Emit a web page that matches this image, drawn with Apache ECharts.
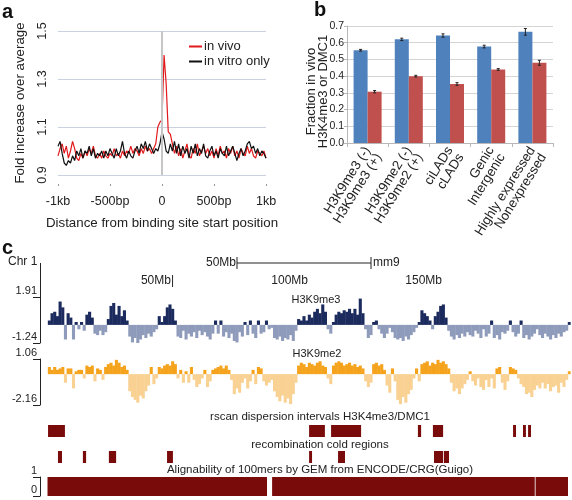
<!DOCTYPE html>
<html><head><meta charset="utf-8">
<script src="https://cdn.jsdelivr.net/npm/echarts@6/dist/echarts.min.js"></script>
<style>html,body{margin:0;padding:0;background:#fff}#c{width:572px;height:500px}</style>
</head><body><div id="c"></div>
<script>
// ---------- Panel a ----------
const aStartBp = -1000, aStepBp = 20;
const aTickLabels = {'-1000':'-1kb','-500':'-500bp','0':'0','500':'500bp','1000':'1kb'};
const inVivo = [0.98,1.01,1.03,0.99,1.02,0.97,1.00,1.04,1.01,0.97,0.96,0.99,0.97,1.00,0.98,1.01,0.99,1.02,0.98,0.97,
 0.99,0.97,1.00,0.98,0.97,0.99,0.98,1.01,0.98,0.99,0.97,1.00,0.98,1.00,0.99,1.02,0.99,1.01,1.00,0.98,
 1.01,0.99,1.02,1.00,1.01,0.99,1.01,1.03,1.10,1.12,1.13,1.40,1.28,1.08,1.07,1.03,0.99,1.02,0.98,1.01,
 0.97,1.00,1.03,0.98,0.97,1.01,0.99,1.03,0.98,1.00,1.02,0.99,1.01,0.98,1.00,0.97,1.01,0.98,1.02,0.99,
 1.00,0.97,1.01,0.99,1.02,0.98,1.00,0.97,1.01,0.99,0.98,1.02,0.99,1.01,0.98,0.97,1.00,0.99,0.98,1.00,0.97];
const inVitro = [1.02,1.04,0.99,0.95,0.94,0.96,0.95,0.98,0.96,1.00,0.98,1.01,0.97,1.00,0.99,1.02,0.98,1.01,0.97,0.99,
 0.98,1.00,0.97,1.00,0.98,1.01,0.99,0.97,1.01,0.98,1.00,1.04,0.99,0.97,1.00,0.98,0.97,1.00,1.02,0.99,
 1.03,1.01,1.04,1.00,1.03,1.01,0.99,1.01,1.00,1.03,1.08,1.05,1.00,0.99,1.03,1.00,1.04,0.99,1.03,0.98,
 1.02,0.99,1.01,0.97,1.02,0.99,1.03,0.98,1.01,0.99,1.03,0.98,0.97,1.00,1.02,0.98,1.00,0.97,1.01,0.99,
 0.98,1.02,0.98,1.00,1.02,0.99,0.96,0.99,1.01,0.98,1.00,1.03,1.04,1.01,1.02,0.99,1.01,0.98,1.00,0.99,0.97];

// ---------- Panel b ----------
const bLabelTop = ['H3K9me3 (-)','H3K9me2 (-)','ciLADs','Genic','Highly expressed'];
const bLabelBottom = ['H3K9me3 (+)','H3K9me2 (+)','cLADs','Intergenic','Nonexpressed'];
const bBlue = [0.555,0.620,0.643,0.577,0.665];
const bBlueErr = [0.005,0.007,0.010,0.008,0.020];
const bRed = [0.307,0.400,0.353,0.440,0.480];
const bRedErr = [0.007,0.005,0.008,0.005,0.015];

// ---------- Panel c ----------
const chrLenMb = 197;
const binStartMb = 3, binSizeMb = 1;
const positionTicksMb = [50,100,150];
const scaleBarMb = [73.5,123.5];
const h3k9me3 = [0.3,0.8,0.9,0.6,1.6,1.2,-1.0,0.8,0.5,-1.0,0.2,-0.3,0.2,-0.4,0.7,0.9,0.5,-0.6,-0.7,-0.4,
 -0.7,-0.5,0.4,1.3,1.5,0.7,1.3,0.6,1.0,0.3,-0.8,-1.2,-0.9,-1.3,-1.0,-0.7,-0.9,-0.6,-0.8,-0.5,
 -0.3,0.6,0.2,0.6,1.2,1.4,1.1,0.3,-0.8,-0.9,-0.4,-1.0,-0.6,-0.8,-0.5,-0.9,-0.4,-0.7,-0.5,-0.8,
 -1.0,-0.6,0.3,-0.6,0.3,-0.8,-0.5,-0.9,-0.6,-1.1,-1.2,-0.5,-0.8,0.2,-0.7,0.3,-0.6,-0.9,0.3,-0.6,
 -0.5,0.3,-0.3,-0.2,-0.9,-1.0,-0.8,-1.1,-0.9,-1.0,-0.7,-1.1,-0.4,0.4,0.3,0.6,0.3,0.7,0.5,0.9,
 1.1,0.8,1.4,0.9,-0.3,-0.6,0.2,0.7,0.9,0.8,1.0,0.9,1.1,0.8,1.1,0.7,1.8,0.8,-0.3,-0.9,-0.7,0.2,
 0.3,-0.3,-0.6,-0.9,-0.6,-0.2,-0.5,-0.9,-1.0,-0.9,-1.1,-0.8,-1.0,-0.7,-0.5,-0.2,0.2,1.0,0.8,0.6,
 0.3,-0.3,0.6,0.9,1.3,1.4,0.5,-0.4,-0.8,-1.0,-0.7,-0.9,-0.6,-0.8,-0.5,-0.7,-0.8,-0.4,-0.6,-0.9,
 -0.3,-0.8,-0.6,0.3,-0.9,-0.7,-1.0,-0.5,-0.6,-0.4,0.3,-0.5,-0.8,-0.6,0.3,-0.9,-0.7,-1.0,-0.8,-0.6,
 -0.3,-0.7,-0.9,-0.6,-0.8,-1.0,-0.7,-0.9,-0.6,-0.8,-0.5,-0.4,0.2];
const h3k9me2 = [0.5,0.3,0.5,0.3,0.4,0.5,-0.6,0.4,0.4,-1.0,0.2,0.3,0.3,-0.3,0.6,0.5,0.6,-0.5,0.4,0.3,
 -0.4,0.5,0.7,0.8,0.6,1.0,0.8,0.5,0.6,0.3,-1.2,-1.6,-1.8,-2.0,-1.5,-1.7,-1.2,-0.8,0.5,-0.7,
 -0.3,0.5,0.4,0.6,0.7,0.6,0.9,0.7,-0.3,0.3,-0.6,0.2,-0.6,0.5,-0.4,-0.9,-0.7,-0.3,0.3,-0.9,
 -0.5,0.3,0.4,0.5,0.6,0.4,0.6,0.3,-0.4,-1.4,-1.0,-1.3,-0.6,-0.3,-1.0,-0.5,0.3,-0.7,0.5,0.4,
 -0.5,-0.8,-0.6,-0.4,-1.2,-1.6,-1.9,-1.5,-2.0,-1.7,-2.1,-1.4,-0.6,0.6,0.8,0.7,0.5,0.8,0.7,0.6,
 0.8,0.9,0.6,0.5,-0.3,-0.7,0.6,0.8,0.9,0.8,0.6,0.7,0.8,0.6,0.7,0.5,0.6,0.4,-0.5,-0.9,-0.6,0.7,
 0.8,0.6,0.7,0.3,-0.8,-1.3,0.4,-0.5,-1.8,-2.1,-1.6,-2.0,-1.4,-1.1,-0.3,0.4,-0.5,0.7,0.8,0.9,
 0.6,0.8,0.7,1.0,0.8,0.9,0.7,0.4,-0.6,-1.2,-1.0,-1.4,-1.0,-0.7,-0.4,0.2,-0.5,-0.8,-0.3,-0.9,
 -1.1,-0.4,-0.9,-0.3,-1.0,0.4,0.5,-0.6,-1.1,-0.5,0.5,0.4,0.3,-0.3,-0.7,-0.9,-1.4,-1.3,-1.6,-1.1,
 -0.8,-1.0,-0.6,-1.0,-0.7,-1.2,-0.9,-0.8,-1.3,-0.6,-0.9,-0.4,0.2];
const rscanIntervals = [[3.0,9.3],[100.4,106.3],[108.6,119.8],[141.0,142.2],[146.6,150.4],[176.5,177.6],[180.2,181.3],[182.1,183.2]];
const coldRegions = [[6.7,8.2],[16.0,17.2],[25.7,28.4],[47.4,49.6],[100.4,101.5],[111.2,113.8],[147.0,150.4],[150.7,152.6]];
const alignSegments = [[2.8,84.7,1],[86.6,184.6,1],[184.9,197,1]];
const me3Range = [-1.24,1.91], me2Range = [-2.16,1.06], alignRange = [0,1];

const FONT = 'Liberation Sans, Arial, sans-serif';
const TXT = '#222';
const MAROON = '#7a0b0b';

const aPair = arr => arr.map((v,i)=>[aStartBp + i*aStepBp, v]);
const binPair = arr => arr.map((v,i)=>[binStartMb + (i+0.5)*binSizeMb, v]);

const chart = echarts.init(document.getElementById('c'), null, {renderer:'canvas'});

const hiddenX = gi => ({type:'value', gridIndex:gi, min:0, max:chrLenMb, show:false});
const trackY = (gi, range) => ({type:'value', gridIndex:gi, min:range[0], max:range[1],
  axisLine:{show:true, lineStyle:{color:'#222', width:1}},
  axisTick:{show:true, length:7, customValues:range, lineStyle:{color:'#222'}},
  axisLabel:{show:true, customValues:range, margin:3, fontSize:11, color:TXT, fontFamily:FONT, verticalAlign:'bottom', lineHeight:12},
  splitLine:{show:false}});

const intervalRender = (color) => (params, api) => {
  const s = api.coord([api.value(0), 1]);
  const e = api.coord([api.value(1), 0]);
  return {type:'rect', shape:{x:s[0], y:s[1], width:Math.max(1,e[0]-s[0]), height:e[1]-s[1]}, style:{fill:color}};
};

const errData = [];
bBlue.forEach((v,i)=>errData.push([i, v-bBlueErr[i], v+bBlueErr[i], 0]));
bRed.forEach((v,i)=>errData.push([i, v-bRedErr[i], v+bRedErr[i], 1]));

const option = {
  animation:false,
  textStyle:{fontFamily:FONT},
  grid:[
    {left:58, top:31, width:208, height:144},   // a
    {left:347, top:26, width:206, height:117},  // b
    {left:40, top:257, width:528, height:12},   // ruler
    {left:40, top:297, width:528, height:46},   // H3K9me3
    {left:40, top:359, width:528, height:46},   // H3K9me2
    {left:40, top:425, width:528, height:12},   // rscan
    {left:40, top:451, width:528, height:12},   // cold
    {left:40, top:477, width:528, height:19}    // alignability
  ],
  legend:{data:['in vivo','in vitro only'], orient:'vertical', left:184, top:35, itemWidth:13, itemHeight:2, itemGap:2,
    icon:'rect', textStyle:{fontSize:13, color:TXT, fontFamily:FONT, padding:[0,0,0,-3]}},
  xAxis:[
    {type:'value', gridIndex:0, min:-1000, max:1000, interval:500, offset:9,
      axisLine:{show:false}, axisTick:{show:true, length:2, lineStyle:{color:'#999'}},
      axisLabel:{fontSize:12.5, color:TXT, margin:11, formatter:v=>aTickLabels[String(v)]},
      splitLine:{show:false},
      name:'Distance from binding site start position', nameLocation:'middle', nameGap:33,
      nameTextStyle:{fontSize:13.3, color:TXT}},
    {type:'category', gridIndex:1, data:bLabelTop.map((t,i)=>t+'\n'+bLabelBottom[i]),
      axisLine:{lineStyle:{color:'#b8b8b8'}}, axisTick:{show:true, length:4, alignWithLabel:false, lineStyle:{color:'#b8b8b8'}},
      axisLabel:{rotate:58, fontSize:13.3, color:TXT, lineHeight:13, margin:5, align:'right', verticalAlign:'middle',
        interval:0, formatter:v=>'\n'+v}},
    hiddenX(2),
    {type:'value', gridIndex:3, min:0, max:chrLenMb, position:'top',
      axisLine:{show:false}, axisTick:{show:false}, splitLine:{show:false},
      axisLabel:{show:true, customValues:positionTicksMb, margin:10, fontSize:12, color:TXT, align:'right',
        formatter:v=> v===positionTicksMb[0] ? v+'Mb|' : v+'Mb'}},
    hiddenX(4), hiddenX(5), hiddenX(6), hiddenX(7)
  ],
  yAxis:[
    {type:'value', gridIndex:0, min:0.9, max:1.5, interval:0.2,
      axisLine:{show:false}, axisTick:{show:false},
      axisLabel:{rotate:90, fontSize:12.5, color:TXT, margin:9, formatter:v=>v.toFixed(1)},
      splitLine:{lineStyle:{color:'#c9d2de', width:1}},
      name:'Fold increase over average', nameLocation:'middle', nameGap:31,
      nameTextStyle:{fontSize:13.3, color:TXT}},
    {type:'value', gridIndex:1, min:0, max:0.7, interval:0.1,
      axisLine:{show:true, lineStyle:{color:'#b8b8b8'}}, axisTick:{show:true, length:3, lineStyle:{color:'#b8b8b8'}},
      axisLabel:{fontSize:10.5, color:TXT, margin:3, formatter:v=>v.toFixed(1)},
      splitLine:{lineStyle:{color:'#d4d4d4'}},
      name:'Fraction in vivo\nH3K4me3 or DMC1', nameLocation:'middle', nameGap:18, nameMoveOverlap:false,
      nameTextStyle:{fontSize:13, color:TXT, lineHeight:12, padding:[0,14,0,0]}},
    {type:'value', gridIndex:2, min:0, max:1, show:false},
    trackY(3, me3Range),
    trackY(4, me2Range),
    {type:'value', gridIndex:5, min:0, max:1, show:false},
    {type:'value', gridIndex:6, min:0, max:1, show:false},
    trackY(7, alignRange)
  ],
  graphic:[
    {type:'text', left:2, top:2, style:{text:'a', font:'bold 20px '+FONT, fill:'#111'}},
    {type:'text', left:314, top:0, style:{text:'b', font:'bold 20px '+FONT, fill:'#111'}},
    {type:'text', left:2, top:238, style:{text:'c', font:'bold 20px '+FONT, fill:'#111'}},
    {type:'text', left:8, top:256, style:{text:'Chr 1', font:'12px '+FONT, fill:TXT}},
    {type:'line', shape:{x1:40.5, y1:263, x2:40.5, y2:297}, style:{stroke:'#222', lineWidth:1}},
    {type:'text', x:316, y:300, style:{text:'H3K9me3', font:'11px '+FONT, fill:TXT, textAlign:'center', textVerticalAlign:'middle'}},
    {type:'text', x:317, y:354, style:{text:'H3K9me2', font:'11px '+FONT, fill:TXT, textAlign:'center', textVerticalAlign:'middle'}},
    {type:'text', x:320, y:417, style:{text:'rscan dispersion intervals H3K4me3/DMC1', font:'11.5px '+FONT, fill:TXT, textAlign:'center', textVerticalAlign:'middle'}},
    {type:'text', x:320, y:445, style:{text:'recombination cold regions', font:'11.5px '+FONT, fill:TXT, textAlign:'center', textVerticalAlign:'middle'}},
    {type:'text', x:320, y:470, style:{text:'Alignability of 100mers by GEM from ENCODE/CRG(Guigo)', font:'11.5px '+FONT, fill:TXT, textAlign:'center', textVerticalAlign:'middle'}}
  ],
  series:[
    {name:'in vivo', type:'line', xAxisIndex:0, yAxisIndex:0, data:aPair(inVivo), symbol:'none', color:'#e3181b',
      lineStyle:{width:1.2, color:'#e3181b'},
      markLine:{silent:true, symbol:'none', label:{show:false}, lineStyle:{color:'#c6c6c6', width:2, type:'solid'}, data:[{xAxis:0}]}},
    {name:'in vitro only', type:'line', xAxisIndex:0, yAxisIndex:0, data:aPair(inVitro), symbol:'none', color:'#111',
      lineStyle:{width:1.2, color:'#111'}},
    {name:'blue', type:'bar', xAxisIndex:1, yAxisIndex:1, data:bBlue, barGap:'0%', barCategoryGap:'32%', itemStyle:{color:'#4f81bd'}},
    {name:'red', type:'bar', xAxisIndex:1, yAxisIndex:1, data:bRed, itemStyle:{color:'#c0504d'}},
    {name:'err', type:'custom', xAxisIndex:1, yAxisIndex:1, data:errData, encode:{x:0, y:[1,2]}, z:5,
      renderItem:(params, api)=>{
        const ci = api.value(0), lo = api.value(1), hi = api.value(2), side = api.value(3);
        const top = api.coord([ci, hi]); const bot = api.coord([ci, lo]);
        const band = api.size([1,0])[0];
        const bw = band*(1-0.32)/2;
        const x = top[0] + (side===0 ? -bw/2 : bw/2);
        const st = {stroke:'#222', lineWidth:1};
        return {type:'group', children:[
          {type:'line', shape:{x1:x, y1:top[1], x2:x, y2:bot[1]}, style:st},
          {type:'line', shape:{x1:x-1.5, y1:top[1], x2:x+1.5, y2:top[1]}, style:st},
          {type:'line', shape:{x1:x-1.5, y1:bot[1], x2:x+1.5, y2:bot[1]}, style:st}
        ]};
      }},
    {name:'ruler', type:'custom', xAxisIndex:2, yAxisIndex:2, data:[scaleBarMb], encode:{x:[0,1]},
      renderItem:(params, api)=>{
        const s = api.coord([api.value(0), 0.5]); const e = api.coord([api.value(1), 0.5]);
        const st = {stroke:'#222', lineWidth:1};
        const len = Math.round(api.value(1)-api.value(0));
        return {type:'group', children:[
          {type:'line', shape:{x1:s[0], y1:s[1], x2:e[0], y2:e[1]}, style:st},
          {type:'line', shape:{x1:s[0], y1:s[1]-6, x2:s[0], y2:s[1]+6}, style:st},
          {type:'line', shape:{x1:e[0], y1:e[1]-6, x2:e[0], y2:e[1]+6}, style:st},
          {type:'text', x:s[0]-1, y:s[1], style:{text:len+'Mb', font:'12px '+FONT, fill:TXT, textAlign:'right', textVerticalAlign:'middle'}},
          {type:'text', x:e[0]+2, y:e[1], style:{text:'mm9', font:'12px '+FONT, fill:TXT, textAlign:'left', textVerticalAlign:'middle'}}
        ]};
      }},
    {name:'H3K9me3', type:'bar', xAxisIndex:3, yAxisIndex:3, data:binPair(h3k9me3), barWidth:3.1,
      itemStyle:{color:p=>p.value[1]>=0?'#1c2b5e':'#8f9bbb'}},
    {name:'H3K9me2', type:'bar', xAxisIndex:4, yAxisIndex:4, data:binPair(h3k9me2), barWidth:3.1,
      itemStyle:{color:p=>p.value[1]>=0?'#f5a31d':'#f9d192'}},
    {name:'rscan', type:'custom', xAxisIndex:5, yAxisIndex:5, data:rscanIntervals, encode:{x:[0,1]}, renderItem:intervalRender(MAROON)},
    {name:'cold', type:'custom', xAxisIndex:6, yAxisIndex:6, data:coldRegions, encode:{x:[0,1]}, renderItem:intervalRender(MAROON)},
    {name:'align', type:'custom', xAxisIndex:7, yAxisIndex:7, data:alignSegments, encode:{x:[0,1], y:2},
      renderItem:(params, api)=>{
        const s = api.coord([api.value(0), api.value(2)]); const e = api.coord([api.value(1), 0]);
        return {type:'rect', shape:{x:s[0], y:s[1], width:e[0]-s[0], height:e[1]-s[1]}, style:{fill:MAROON}};
      }}
  ]
};
chart.setOption(option);
</script></body></html>
